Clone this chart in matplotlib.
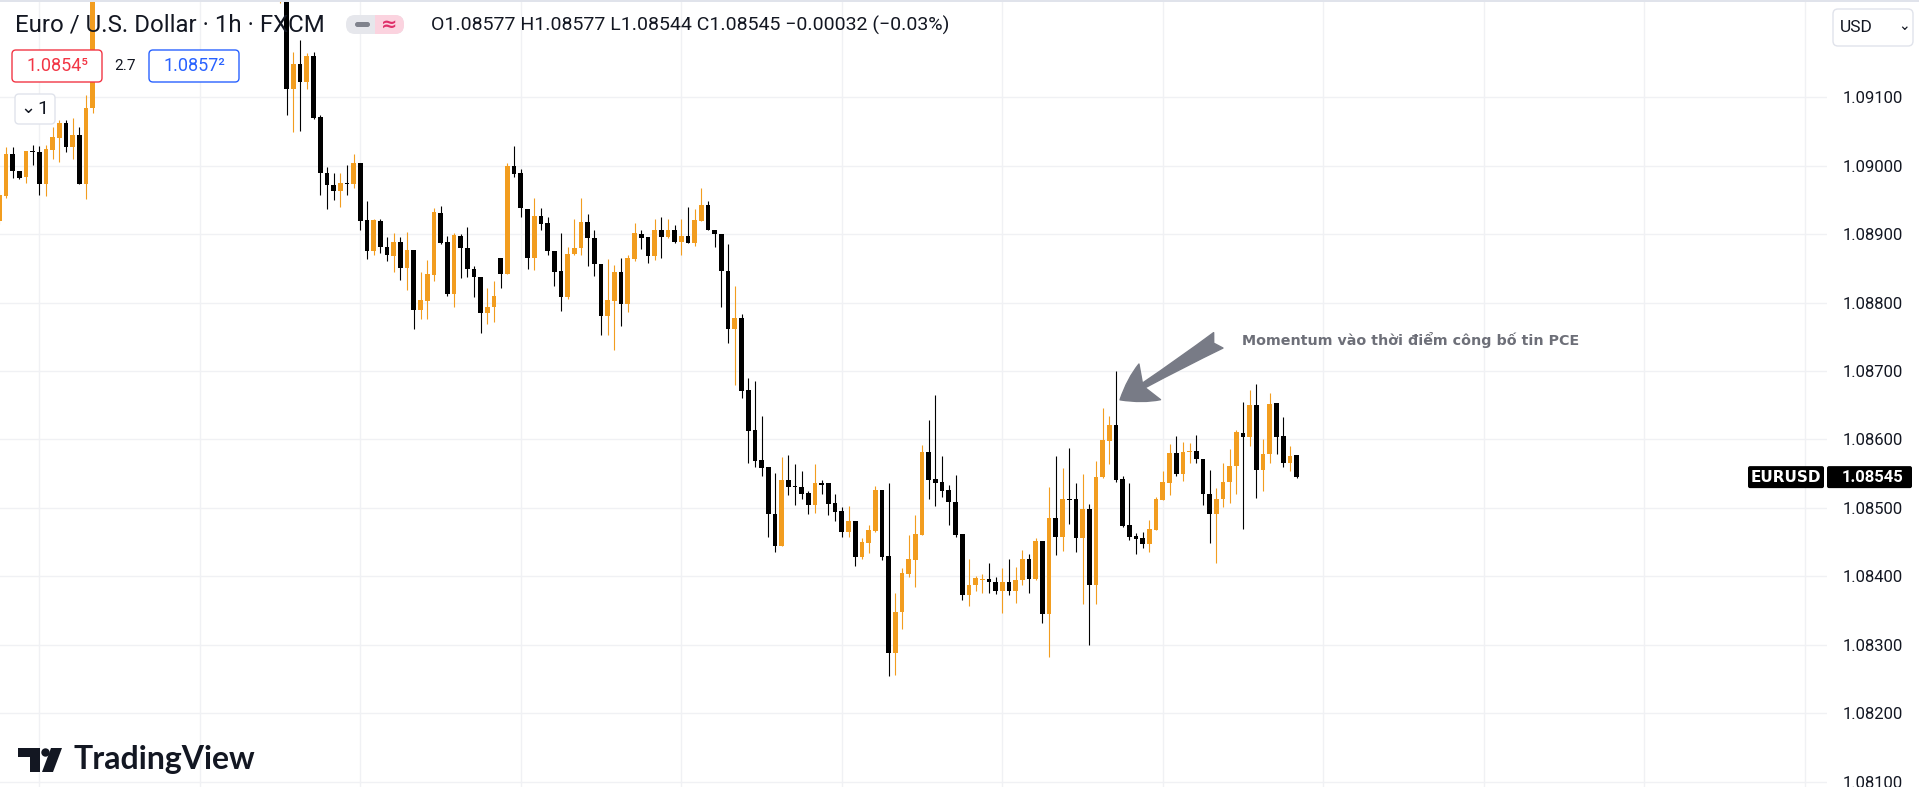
import numpy as np
import matplotlib
matplotlib.use('Agg')
import matplotlib.pyplot as plt
from matplotlib.patches import FancyBboxPatch, Rectangle, Circle, Polygon
from matplotlib.transforms import IdentityTransform

nan = np.nan

# EURUSD 1h candles, left to right (the run of bars above the visible range is nan)
opens = [1.08920, 1.08956, 1.09017, 1.08993, 1.08984, 1.09022, 1.09021, 1.08974, 1.09023, 1.09041,
         1.09062, 1.09028, 1.09045, 1.08974, 1.09084] + [nan] * 27 + [
         1.09260, 1.09290, 1.09113, 1.09149, 1.09122, 1.09161, 1.09072, 1.08990, 1.08972, 1.08964,
         1.08975, 1.08974, 1.09004, 1.08921, 1.08875, 1.08920, 1.08882, 1.08868, 1.08889, 1.08850,
         1.08877, 1.08789, 1.08803, 1.08841, 1.08931, 1.08889, 1.08813, 1.08898, 1.08880, 1.08849,
         1.08837, 1.08785, 1.08793, 1.08866, 1.08842, 1.09000, 1.08989, 1.08937, 1.08866, 1.08927,
         1.08917, 1.08876, 1.08847, 1.08809, 1.08871, 1.08880, 1.08918, 1.08894, 1.08857, 1.08780,
         1.08803, 1.08845, 1.08798, 1.08864, 1.08901, 1.08896, 1.08868, 1.08907, 1.08896, 1.08907,
         1.08889, 1.08898, 1.08887, 1.08920, 1.08943, 1.08907, 1.08900, 1.08847, 1.08761, 1.08777,
         1.08672, 1.08614, 1.08570, 1.08560, 1.08491, 1.08444, 1.08541, 1.08532, 1.08531, 1.08522,
         1.08504, 1.08537, 1.08536, 1.08507, 1.08495, 1.08465, 1.08481, 1.08428, 1.08449, 1.08466,
         1.08526, 1.08430, 1.08288, 1.08348, 1.08403, 1.08424, 1.08460, 1.08582, 1.08542, 1.08538,
         1.08526, 1.08509, 1.08462, 1.08373, 1.08387, 1.08395, 1.08396, 1.08391, 1.08378, 1.08392,
         1.08378, 1.08395, 1.08426, 1.08396, 1.08451, 1.08345, 1.08485, 1.08458, 1.08513, 1.08513,
         1.08456, 1.08498, 1.08387, 1.08545, 1.08598, 1.08621, 1.08542, 1.08475, 1.08459, 1.08456,
         1.08447, 1.08468, 1.08512, 1.08537, 1.08580, 1.08550, 1.08582, 1.08583, 1.08571, 1.08521,
         1.08491, 1.08513, 1.08538, 1.08561, 1.08610, 1.08604, 1.08650, 1.08555, 1.08579, 1.08653,
         1.08605, 1.08566, 1.08577]
highs = [1.08965, 1.09028, 1.09028, 1.08993, 1.09022, 1.09031, 1.09029, 1.09031, 1.09057, 1.09067,
         1.09067, 1.09070, 1.09057, 1.09104, 1.09300] + [nan] * 27 + [
         1.09320, 1.09300, 1.09167, 1.09184, 1.09165, 1.09167, 1.09075, 1.08998, 1.08989, 1.08990,
         1.09001, 1.09017, 1.09004, 1.08948, 1.08923, 1.08922, 1.08896, 1.08902, 1.08896, 1.08904,
         1.08877, 1.08845, 1.08862, 1.08938, 1.08941, 1.08897, 1.08902, 1.08900, 1.08911, 1.08853,
         1.08837, 1.08821, 1.08831, 1.08866, 1.09004, 1.09029, 1.08995, 1.08937, 1.08953, 1.08938,
         1.08926, 1.08876, 1.08902, 1.08881, 1.08923, 1.08953, 1.08930, 1.08906, 1.08857, 1.08864,
         1.08855, 1.08865, 1.08870, 1.08917, 1.08906, 1.08896, 1.08922, 1.08926, 1.08923, 1.08914,
         1.08923, 1.08940, 1.08937, 1.08967, 1.08948, 1.08907, 1.08900, 1.08886, 1.08824, 1.08784,
         1.08690, 1.08685, 1.08634, 1.08560, 1.08551, 1.08575, 1.08577, 1.08564, 1.08554, 1.08525,
         1.08564, 1.08541, 1.08537, 1.08520, 1.08501, 1.08503, 1.08481, 1.08456, 1.08475, 1.08532,
         1.08526, 1.08536, 1.08375, 1.08412, 1.08460, 1.08490, 1.08592, 1.08629, 1.08665, 1.08576,
         1.08533, 1.08548, 1.08462, 1.08426, 1.08400, 1.08403, 1.08419, 1.08399, 1.08412, 1.08426,
         1.08413, 1.08438, 1.08433, 1.08456, 1.08451, 1.08531, 1.08576, 1.08558, 1.08587, 1.08536,
         1.08550, 1.08506, 1.08568, 1.08646, 1.08634, 1.08700, 1.08546, 1.08537, 1.08464, 1.08465,
         1.08483, 1.08516, 1.08554, 1.08593, 1.08605, 1.08596, 1.08595, 1.08607, 1.08571, 1.08555,
         1.08529, 1.08565, 1.08586, 1.08614, 1.08655, 1.08672, 1.08681, 1.08600, 1.08668, 1.08653,
         1.08633, 1.08590, 1.08577]
lows = [1.08915, 1.08953, 1.08983, 1.08981, 1.08975, 1.09001, 1.08957, 1.08956, 1.09010, 1.09005,
        1.09021, 1.09010, 1.08974, 1.08951, 1.09078] + [nan] * 27 + [
        1.09238, 1.09074, 1.09049, 1.09051, 1.09112, 1.09068, 1.08957, 1.08937, 1.08950, 1.08940,
        1.08957, 1.08967, 1.08907, 1.08864, 1.08870, 1.08872, 1.08861, 1.08845, 1.08833, 1.08819,
        1.08761, 1.08776, 1.08776, 1.08831, 1.08886, 1.08810, 1.08793, 1.08836, 1.08838, 1.08808,
        1.08756, 1.08769, 1.08772, 1.08821, 1.08842, 1.08984, 1.08926, 1.08849, 1.08848, 1.08907,
        1.08870, 1.08824, 1.08788, 1.08805, 1.08870, 1.08870, 1.08854, 1.08839, 1.08753, 1.08753,
        1.08731, 1.08766, 1.08787, 1.08861, 1.08878, 1.08858, 1.08862, 1.08866, 1.08895, 1.08888,
        1.08870, 1.08887, 1.08883, 1.08920, 1.08907, 1.08881, 1.08793, 1.08741, 1.08680, 1.08660,
        1.08565, 1.08560, 1.08547, 1.08458, 1.08436, 1.08444, 1.08519, 1.08504, 1.08513, 1.08491,
        1.08492, 1.08520, 1.08490, 1.08481, 1.08457, 1.08458, 1.08415, 1.08425, 1.08434, 1.08465,
        1.08424, 1.08254, 1.08256, 1.08323, 1.08399, 1.08385, 1.08460, 1.08513, 1.08503, 1.08516,
        1.08475, 1.08458, 1.08366, 1.08357, 1.08378, 1.08375, 1.08376, 1.08374, 1.08347, 1.08373,
        1.08361, 1.08387, 1.08376, 1.08395, 1.08332, 1.08282, 1.08431, 1.08437, 1.08477, 1.08436,
        1.08360, 1.08300, 1.08360, 1.08544, 1.08564, 1.08538, 1.08472, 1.08453, 1.08433, 1.08442,
        1.08436, 1.08468, 1.08512, 1.08519, 1.08547, 1.08540, 1.08565, 1.08565, 1.08504, 1.08448,
        1.08420, 1.08501, 1.08507, 1.08521, 1.08469, 1.08590, 1.08514, 1.08525, 1.08565, 1.08579,
        1.08560, 1.08554, 1.08544]
closes = [1.08958, 1.09017, 1.08992, 1.08983, 1.09022, 1.09020, 1.08974, 1.09025, 1.09042, 1.09062,
          1.09028, 1.09045, 1.08974, 1.09084, 1.09280] + [nan] * 27 + [
          1.09300, 1.09113, 1.09149, 1.09122, 1.09161, 1.09070, 1.08989, 1.08972, 1.08964, 1.08975,
          1.08974, 1.09004, 1.08920, 1.08875, 1.08921, 1.08882, 1.08870, 1.08889, 1.08850, 1.08877,
          1.08789, 1.08804, 1.08842, 1.08932, 1.08888, 1.08813, 1.08899, 1.08880, 1.08849, 1.08837,
          1.08785, 1.08794, 1.08810, 1.08842, 1.09000, 1.08988, 1.08938, 1.08866, 1.08927, 1.08915,
          1.08875, 1.08845, 1.08809, 1.08871, 1.08880, 1.08918, 1.08894, 1.08857, 1.08780, 1.08804,
          1.08845, 1.08798, 1.08865, 1.08902, 1.08894, 1.08868, 1.08907, 1.08896, 1.08907, 1.08889,
          1.08898, 1.08887, 1.08921, 1.08943, 1.08907, 1.08900, 1.08847, 1.08761, 1.08777, 1.08671,
          1.08613, 1.08569, 1.08559, 1.08491, 1.08444, 1.08541, 1.08531, 1.08530, 1.08520, 1.08504,
          1.08537, 1.08534, 1.08506, 1.08494, 1.08465, 1.08481, 1.08428, 1.08450, 1.08468, 1.08526,
          1.08428, 1.08288, 1.08348, 1.08405, 1.08425, 1.08462, 1.08582, 1.08541, 1.08537, 1.08525,
          1.08508, 1.08460, 1.08373, 1.08387, 1.08397, 1.08396, 1.08391, 1.08378, 1.08392, 1.08378,
          1.08395, 1.08426, 1.08396, 1.08451, 1.08345, 1.08485, 1.08458, 1.08513, 1.08512, 1.08456,
          1.08498, 1.08387, 1.08545, 1.08599, 1.08621, 1.08541, 1.08474, 1.08458, 1.08454, 1.08447,
          1.08469, 1.08513, 1.08538, 1.08580, 1.08550, 1.08582, 1.08583, 1.08571, 1.08521, 1.08491,
          1.08513, 1.08538, 1.08561, 1.08611, 1.08604, 1.08650, 1.08555, 1.08579, 1.08652, 1.08604,
          1.08566, 1.08576, 1.08545]

price_ticks = [1.081, 1.082, 1.083, 1.084, 1.085, 1.086, 1.087, 1.088, 1.089, 1.090, 1.091]
symbol = 'EURUSD'
last_price = 1.08545
pce_bar = 167  # bar of the PCE release spike
title = 'Euro / U.S. Dollar · 1h · FXCM'
ohlc_text = 'O1.08577 H1.08577 L1.08544 C1.08545 −0.00032 (−0.03%)'
bid_text, spread_text, ask_text = '1.0854⁵', '2.7', '1.0857²'
note = 'Momentum vào thời điểm công bố tin PCE'

ORANGE = '#f29d1f'
BLACK = '#000000'
TEXT = '#131722'
GRID = '#f0f1f4'

W, H = 1919, 787
fig = plt.figure(figsize=(W / 100, H / 100), dpi=100)
fig.patch.set_facecolor('white')
ax = fig.add_axes([0, 0, 1827 / W, 1])

o = np.array(opens)
h = np.array(highs)
l = np.array(lows)
c = np.array(closes)
x = np.arange(len(o))
ok = ~np.isnan(o)
cols = np.where(c >= o, ORANGE, BLACK)[ok]

ax.vlines(x[ok], l[ok], h[ok], colors=cols, linewidth=0.8, zorder=2)
ax.bar(x[ok], np.maximum(np.abs(c - o)[ok], 0.000016), bottom=np.minimum(o, c)[ok],
       width=0.7, color=cols, linewidth=0, zorder=3)

ax.set_xlim(0.12, 0.12 + 1827 / 6.6875)
ax.set_ylim(1.091 - (H - 97.5) / 68400, 1.091 + 97.5 / 68400)
ax.set_xticks(np.arange(6, 280, 24))
ax.set_yticks(price_ticks)
ax.set_yticklabels([f'{p:.5f}' for p in price_ticks])
ax.yaxis.tick_right()
ax.tick_params(axis='x', length=0, labelbottom=False)
ax.tick_params(axis='y', length=0, pad=11, labelsize=12, labelcolor=TEXT)
for lab in ax.get_yticklabels():
    lab.set_fontfamily('Roboto')
ax.grid(True, color=GRID, linewidth=1, zorder=0)
for s in ax.spines.values():
    s.set_visible(False)

# annotation arrow pointing at the PCE spike
ax.annotate('', xy=(pce_bar + 0.6, highs[pce_bar] - 0.00042),
            xytext=(pce_bar + 15.3, highs[pce_bar] + 0.00045),
            arrowprops=dict(arrowstyle='fancy,head_length=1.25,head_width=1.5,tail_width=0.65',
                            color='#787b86', mutation_scale=20, shrinkA=0, shrinkB=0), zorder=5)
ax.text(pce_bar + 18.8, highs[pce_bar] + 0.00045, note, fontsize=10.3, fontweight='bold',
        color='#6d6f78', va='center', ha='left', family='DejaVu Sans')

# price label of the last bar
fig.canvas.draw()
ly = H - ax.transData.transform((0, last_price))[1]


def box(x0, y0, x1, y1, fc, ec, r=3, lw=1.0):
    p = FancyBboxPatch((x0, H - y1), x1 - x0, y1 - y0,
                       boxstyle=f'round,pad=0,rounding_size={r}', fc=fc, ec=ec, lw=lw,
                       transform=IdentityTransform())
    fig.add_artist(p)


def ftext(xp, yp, s, **kw):
    fig.text(xp / W, 1 - yp / H, s, **kw)


box(1748, ly - 11, 1824, ly + 11, BLACK, 'none', r=2)
box(1827, ly - 11, 1912, ly + 11, BLACK, 'none', r=2)
ftext(1786, ly + 0.5, symbol, color='white', fontsize=11, fontweight='bold', ha='center', va='center')
ftext(1842, ly + 0.5, f'{last_price:.5f}', color='white', fontsize=12, fontweight='bold',
      ha='left', va='center', family='Roboto')

# header
ftext(15, 25, title, fontsize=17.3, color=TEXT, ha='left', va='center', family='Roboto')
box(346, 15, 404, 34, '#e6e7ec', 'none', r=9)
fig.add_artist(Rectangle((375, H - 34), 20, 19, fc='#fbd3df', ec='none', transform=IdentityTransform()))
box(380, 15, 404, 34, '#fbd3df', 'none', r=9)
box(355, 22, 370, 27, '#80838d', 'none', r=2.5)
ftext(389, 24, '≈', fontsize=14, color='#e0306a', ha='center', va='center', family='DejaVu Sans',
      fontweight='bold')
ftext(431, 25, ohlc_text, fontsize=14, color=TEXT, ha='left', va='center', family='Roboto')

box(12, 50, 102, 82, 'white', '#f23645', r=4)
ftext(57, 66, bid_text, fontsize=13, color='#f23645', ha='center', va='center', family='Roboto')
ftext(125, 66, spread_text, fontsize=11, color=TEXT, ha='center', va='center', family='Roboto')
box(149, 50, 239, 82, 'white', '#2962ff', r=4)
ftext(194, 66, ask_text, fontsize=13, color='#2962ff', ha='center', va='center', family='Roboto')

box(15, 94, 55, 124, 'white', '#e0e3eb', r=4)
ftext(28, 108, '⌄', fontsize=13, color=TEXT, ha='center', va='center', family='DejaVu Sans')
ftext(43, 109, '1', fontsize=14, color=TEXT, ha='center', va='center', family='Roboto')

box(1833, 9, 1913, 46, 'white', '#e0e3eb', r=5)
ftext(1840, 28, 'USD', fontsize=12.5, color=TEXT, ha='left', va='center', family='Roboto')
ftext(1904, 26, '⌄', fontsize=10, color=TEXT, ha='center', va='center', family='DejaVu Sans')
fig.add_artist(Rectangle((0, H - 1.5), W, 1.5, fc='#e0e3eb', ec='none', transform=IdentityTransform()))

# TradingView logo
logo = dict(fc=TEXT, ec='none', transform=IdentityTransform())
fig.add_artist(Rectangle((18, H - 756.5), 22, 8.5, **logo))
fig.add_artist(Rectangle((30, H - 772), 10, 24, **logo))
fig.add_artist(Circle((45.5, H - 752.5), 4.2, **logo))
fig.add_artist(Polygon([(51, H - 748), (62, H - 748), (53, H - 772), (42, H - 772)], **logo))
ftext(73, 760, 'TradingView', fontsize=23, color=TEXT, fontweight='bold', family='Lato',
      ha='left', va='center')

fig.savefig('out.png', dpi=100)
